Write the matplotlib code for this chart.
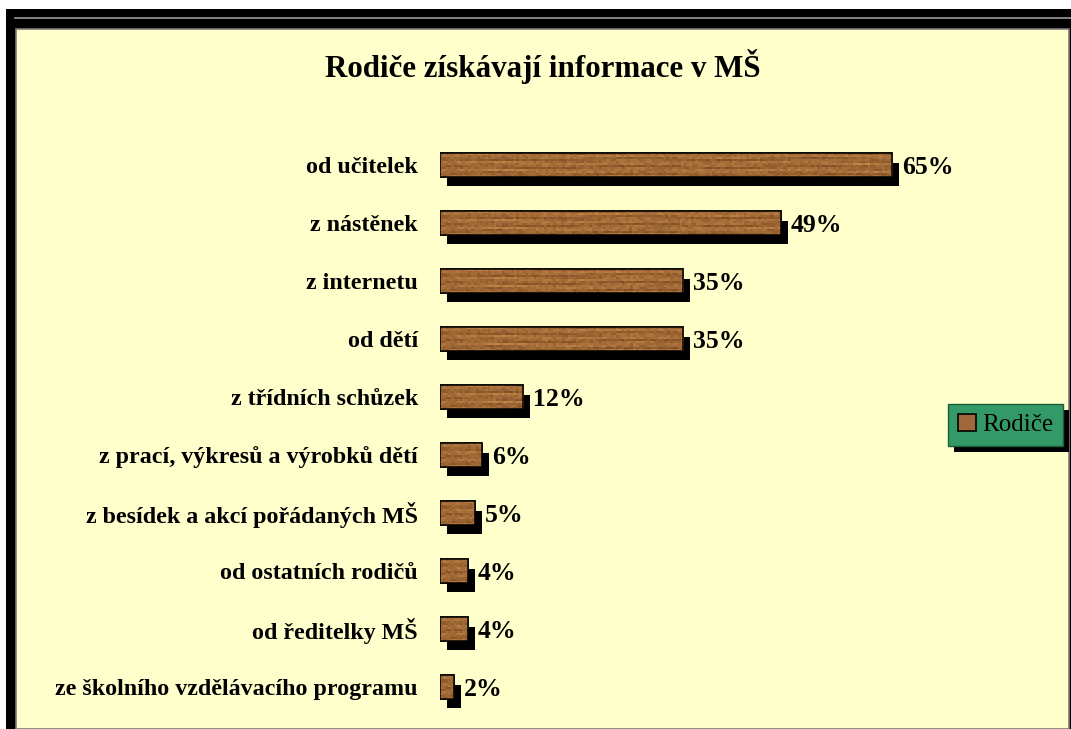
import numpy as np
import matplotlib
matplotlib.use("Agg")
import matplotlib.pyplot as plt
from matplotlib.patches import Rectangle, Patch
import matplotlib.patheffects as pe

# ---- data ----
categories = [
    "od učitelek",
    "z nástěnek",
    "z internetu",
    "od dětí",
    "z třídních schůzek",
    "z prací, výkresů a výrobků dětí",
    "z besídek a akcí pořádaných MŠ",
    "od ostatních rodičů",
    "od ředitelky MŠ",
    "ze školního vzdělávacího programu",
]
values = [65, 49, 35, 35, 12, 6, 5, 4, 4, 2]
value_labels = ["65%", "49%", "35%", "35%", "12%", "6%", "5%", "4%", "4%", "2%"]
series_name = "Rodiče"
title = "Rodiče získávají informace v MŠ"

W, H = 1071, 729
fig = plt.figure(figsize=(W / 100, H / 100), dpi=100)
fig.patch.set_facecolor("white")

def fx(px):
    return px / W

def fy(py):
    return 1 - py / H

# frame
fig.patches.append(Rectangle((fx(6), fy(729)), fx(1071 - 6), 720 / H,
                             transform=fig.transFigure, facecolor="black",
                             edgecolor="none", zorder=-3))
fig.lines.append(plt.Line2D([fx(15), fx(1071)], [fy(17.5), fy(17.5)],
                            transform=fig.transFigure, color="#9a9a9a", lw=1.2, zorder=-2))
fig.patches.append(Rectangle((fx(16), fy(729)), fx(1069 - 16), (729 - 29) / H,
                             transform=fig.transFigure, facecolor="#FFFFCC",
                             edgecolor="#7a7a7a", linewidth=1.2, zorder=-2))

serif = ["Liberation Serif", "DejaVu Serif"]

PX_PER_UNIT = 6.954
ax = fig.add_axes([fx(440), fy(716), fx(1060 - 440), 580 / H])
ax.set_facecolor("none")

ypos = np.arange(len(values))
bar_h = 0.41
bars = ax.barh(ypos, values, height=bar_h, color="#A0683A", edgecolor="black",
               linewidth=1.1, zorder=3)
for b in bars:
    b.set_path_effects([pe.SimplePatchShadow(offset=(5.0, -6.8), shadow_rgbFace="black", alpha=1.0),
                        pe.Normal()])

# wood-like texture (deterministic pattern) clipped to each bar
th, tw = 12, 160
yy, xx = np.mgrid[0:th, 0:tw].astype(float)
streak = np.sin(yy * 1.7 + 0.9 * np.sin(xx / 9.0)) + 0.6 * np.sin(yy * 3.1 + xx / 13.0)
mottle = np.sin(xx * 12.9898 + yy * 78.233) * 43758.5453
mottle = mottle - np.floor(mottle)
pattern = 0.6 * (streak - streak.min()) / (streak.max() - streak.min()) + 0.4 * mottle
pattern = (pattern - pattern.min()) / (pattern.max() - pattern.min())
dark = np.array([0x7E, 0x4C, 0x22]) / 255
light = np.array([0xC2, 0x86, 0x4A]) / 255
tex = dark + (light - dark) * pattern[..., None]
for b, v, y in zip(bars, values, ypos):
    ncol = max(2, int(round(tw * v / 65)))
    im = ax.imshow(tex[:, :ncol], extent=(0, v, y + bar_h / 2, y - bar_h / 2),
                   aspect="auto", interpolation="nearest", zorder=3.5)
    im.set_clip_path(b)
    ax.add_patch(Rectangle(b.get_xy(), b.get_width(), b.get_height(), facecolor="none",
                           edgecolor="black", linewidth=1.1, zorder=4))
ax.set_xlim(0, (1060 - 440) / PX_PER_UNIT)
ax.set_ylim(len(values) - 0.5, -0.5)

for v, y, lab in zip(values, ypos, value_labels):
    ax.annotate(lab, xy=(v, y), xytext=(7.2, -6.4), textcoords="offset points",
                ha="left", va="baseline", fontsize=18.5, fontweight="bold",
                family=serif, color="black", zorder=5)

ax.set_yticks(ypos)
ax.set_yticklabels(categories, fontsize=17.3, fontweight="bold", family=serif)
ax.tick_params(axis="y", length=0, pad=16)
ax.set_xticks([])
for s in ax.spines.values():
    s.set_visible(False)

fig.text(fx(543), fy(66), title, ha="center", va="center", fontsize=22.3,
         fontweight="bold", family=serif)

handle = Patch(facecolor="#A0683A", edgecolor="black", linewidth=1.2, label=series_name)
leg = fig.legend(handles=[handle], loc="center left",
                 bbox_to_anchor=(fx(948), fy(425)), bbox_transform=fig.transFigure,
                 borderaxespad=0, fancybox=False, frameon=True,
                 facecolor="#339966", edgecolor="#1d5c3c", framealpha=1,
                 prop={"family": serif, "size": 18},
                 handlelength=0.7, handleheight=0.7, handletextpad=0.25,
                 borderpad=0.4)
leg.get_frame().set_linewidth(1.0)
leg.get_frame().set_path_effects([pe.SimplePatchShadow(offset=(4.3, -4.3), shadow_rgbFace="black", alpha=1.0),
                                  pe.Normal()])

fig.savefig("out.png", dpi=100, facecolor=fig.get_facecolor())
